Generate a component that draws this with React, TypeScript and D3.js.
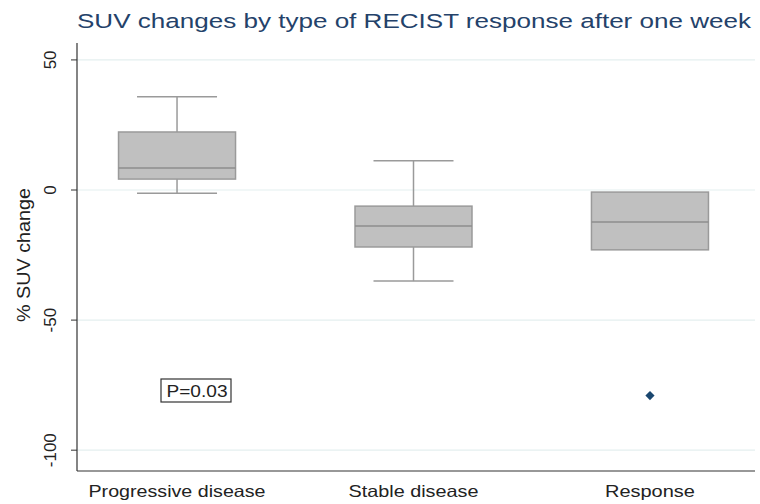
import React from "react";
import * as d3 from "d3";

const categories = ["Progressive disease", "Stable disease", "Response"];
const whiskerHigh = [35.8, 11.2, -0.8];
const q3 = [22.3, -6.2, -0.8];
const median = [8.5, -13.8, -12.3];
const q1 = [4.2, -21.9, -23.0];
const whiskerLow = [-1.2, -35.0, -23.0];
const outlierCats = ["Response"];
const outlierVals = [-79];
const yTicks = [50, 0, -50, -100];
const title = "SUV changes by type of RECIST response after one week";
const yLabel = "% SUV change";
const pText = "P=0.03";

// rendered widths of the category labels (styling)
const catLabelWidths = [177, 130, 90];

const W = 760, H = 504;
const left = 77, right = 755, top = 43, bottom = 471;

export default function App() {
  const y = d3.scaleLinear().domain([-108, 56.5]).range([bottom, top]);
  const x = d3.scalePoint<string>().domain(categories).range([left, 750]).padding(0.423);
  const boxW = 117;
  const capW = 80;
  const font = "'Liberation Sans', Arial, sans-serif";
  const boxStroke = "#9a9a9a";
  const sq = d3.symbol().type(d3.symbolSquare).size(42)();
  return (
    <svg width={W} height={H} style={{ position: "absolute", left: 0, top: 0, background: "#fff" }}>
      <rect x={0} y={0} width={W} height={H} fill="#fff" />
      <text x={77} y={28} textAnchor="start" fontFamily={font} fontSize={20.5} fill="#24426a" textLength={674} lengthAdjust="spacingAndGlyphs">{title}</text>
      {yTicks.map((t) => (
        <g key={t}>
          <line x1={left} x2={right} y1={y(t)} y2={y(t)} stroke="#e4efef" strokeWidth={1.2} />
          <line x1={left - 6} x2={left} y1={y(t)} y2={y(t)} stroke="#333" strokeWidth={1} />
          <text transform={`translate(${left - 27},${y(t)}) rotate(-90)`} textAnchor="middle" dominantBaseline="central" fontFamily={font} fontSize={17} fill="#222">{t}</text>
        </g>
      ))}
      <text transform={`translate(23,255) rotate(-90)`} textAnchor="middle" dominantBaseline="central" fontFamily={font} fontSize={18.5} fill="#222" textLength={134} lengthAdjust="spacingAndGlyphs">{yLabel}</text>
      {categories.map((c, i) => {
        const cx = x(c) as number;
        return (
          <g key={c}>
            {whiskerHigh[i] > q3[i] && (
              <g>
                <line x1={cx} x2={cx} y1={y(whiskerHigh[i])} y2={y(q3[i])} stroke={boxStroke} strokeWidth={1.5} />
                <line x1={cx - capW / 2} x2={cx + capW / 2} y1={y(whiskerHigh[i])} y2={y(whiskerHigh[i])} stroke={boxStroke} strokeWidth={1.5} />
              </g>
            )}
            {whiskerLow[i] < q1[i] && (
              <g>
                <line x1={cx} x2={cx} y1={y(q1[i])} y2={y(whiskerLow[i])} stroke={boxStroke} strokeWidth={1.5} />
                <line x1={cx - capW / 2} x2={cx + capW / 2} y1={y(whiskerLow[i])} y2={y(whiskerLow[i])} stroke={boxStroke} strokeWidth={1.5} />
              </g>
            )}
            <rect x={cx - boxW / 2} y={y(q3[i])} width={boxW} height={y(q1[i]) - y(q3[i])} fill="#c0c0c0" stroke={boxStroke} strokeWidth={1.5} />
            <line x1={cx - boxW / 2} x2={cx + boxW / 2} y1={y(median[i])} y2={y(median[i])} stroke="#8e8e8e" strokeWidth={1.5} />
            <text x={cx} y={497} textAnchor="middle" fontFamily={font} fontSize={16.5} fill="#222" textLength={catLabelWidths[i]} lengthAdjust="spacingAndGlyphs">{c}</text>
          </g>
        );
      })}
      {outlierCats.map((c, i) => (
        <path key={i} d={sq as string} transform={`translate(${x(c)},${y(outlierVals[i])}) rotate(45)`} fill="#1a476f" />
      ))}
      <line x1={left} x2={left} y1={top} y2={bottom} stroke="#333" strokeWidth={1.2} />
      <line x1={left} x2={right} y1={bottom} y2={bottom} stroke="#333" strokeWidth={1.2} />
      <rect x={161} y={379} width={70} height={23} fill="none" stroke="#333" strokeWidth={1.2} />
      <text x={197} y={397} textAnchor="middle" fontFamily={font} fontSize={16} fill="#222" textLength={61} lengthAdjust="spacingAndGlyphs">{pText}</text>
    </svg>
  );
}
